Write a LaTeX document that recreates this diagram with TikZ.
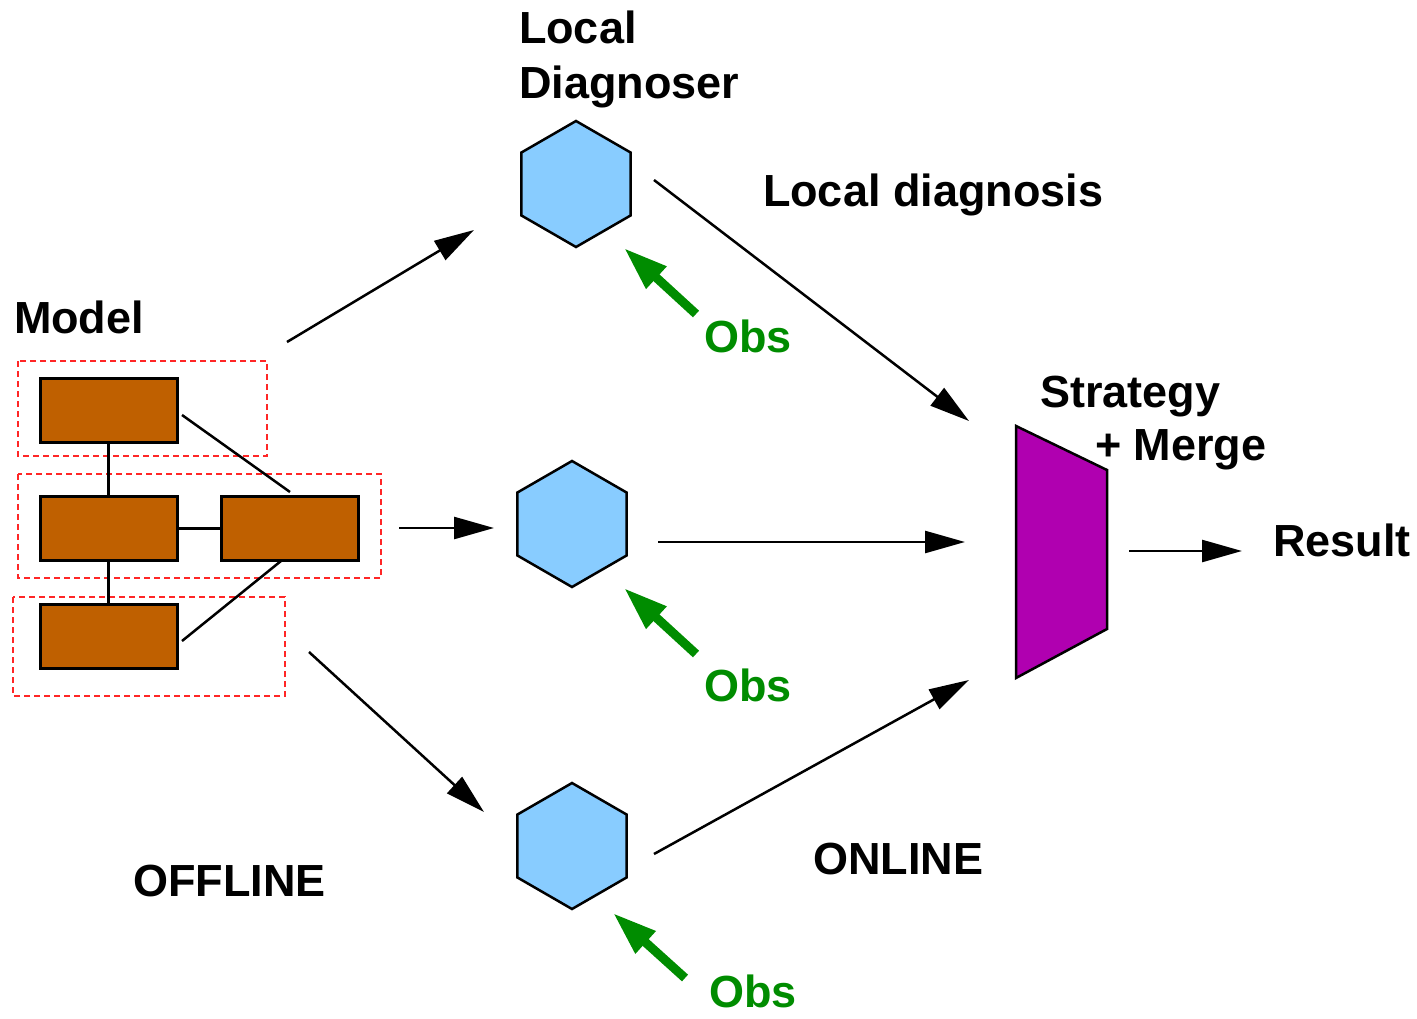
\documentclass[tikz,border=0pt]{standalone}
\usepackage{fontspec}
\setmainfont{Liberation Sans}
\usetikzlibrary{arrows.meta,shapes.geometric}
\definecolor{boxorange}{HTML}{BF6000}
\definecolor{hexblue}{HTML}{88CCFF}
\definecolor{mergepurple}{HTML}{B000B0}
\definecolor{obsgreen}{HTML}{008C00}
\tikzset{
  lbl/.style={font=\fontsize{45}{54}\selectfont\bfseries, anchor=base west, inner sep=0pt, outer sep=0pt},
  obslbl/.style={lbl, text=obsgreen},
  modbox/.style={draw=black, line width=3pt, fill=boxorange, rectangle,
    minimum width=137pt, minimum height=64pt, inner sep=0pt, outer sep=0pt},
  grp/.style={draw=red!85, line width=1.3pt, dash pattern=on 6pt off 4pt},
  link/.style={draw=black, line width=2.5pt},
  flow/.style={draw=black, line width=2.5pt, -{Triangle[length=40pt,width=22pt]}},
  obsarrow/.style={draw=obsgreen, line width=9pt, -{Triangle[length=44pt,width=28pt]}},
  diag/.style={draw=black, line width=2.5pt, fill=hexblue, regular polygon,
    regular polygon sides=6, shape border rotate=30, minimum size=126pt,
    inner sep=0pt, outer sep=0pt}
}
\begin{document}
\begin{tikzpicture}[x=1pt, y=-1pt]
\useasboundingbox (0,0) rectangle (1417,1019);

% ---- model: component boxes grouped in dashed frames ----
\draw[grp] (18,361) rectangle (267,456);
\draw[grp] (18,474) rectangle (381,578);
\draw[grp] (13,597) rectangle (285,696);

\node[modbox] (r1) at (108.5,410) {};
\node[modbox] (r2) at (108.5,528.5) {};
\node[modbox] (r3) at (290,528.5) {};
\node[modbox] (r4) at (108.5,636.5) {};

\coordinate (r1r3a) at (182,415);
\coordinate (r1r3b) at (290,492);
\coordinate (r3r4a) at (281,561);
\coordinate (r3r4b) at (182,641);

\draw[link] (r1.south) -- (r2.north);
\draw[link] (r2.south) -- (r4.north);
\draw[link] (r2.east) -- (r3.west);
\draw[link] (r1r3a) -- (r1r3b);
\draw[link] (r3r4a) -- (r3r4b);

\node[lbl] (model) at (14,334) {Model};
\node[lbl] (offline) at (133,896) {OFFLINE};

% ---- local diagnosers ----
\node[diag] (d1) at (576,184) {};
\node[diag] (d2) at (572,524) {};
\node[diag] (d3) at (572,846) {};

\node[lbl] (ld1) at (519,44) {Local};
\node[lbl] (ld2) at (519,99) {Diagnoser};

% distribution of the model to the diagnosers
\coordinate (m1) at (287,342);
\coordinate (m1t) at (474,230);
\coordinate (m2) at (399,528);
\coordinate (m2t) at (494,528);
\coordinate (m3) at (309,652);
\coordinate (m3t) at (484,812);
\draw[flow] (m1) -- (m1t);
\draw[flow] (m2) -- (m2t);
\draw[flow] (m3) -- (m3t);

% observations fed to each diagnoser
\coordinate (o1) at (696,314);
\coordinate (o1t) at (624,248);
\coordinate (o2) at (696,654);
\coordinate (o2t) at (624,588);
\coordinate (o3) at (685,978);
\coordinate (o3t) at (613,913);
\draw[obsarrow] (o1) -- (o1t);
\draw[obsarrow] (o2) -- (o2t);
\draw[obsarrow] (o3) -- (o3t);
\node[obslbl] (obs1) at (704,352) {Obs};
\node[obslbl] (obs2) at (704,701) {Obs};
\node[obslbl] (obs3) at (709,1007) {Obs};

% ---- strategy + merge ----
\coordinate (t1) at (1016,426);
\coordinate (t2) at (1107,470);
\coordinate (t3) at (1107,629);
\coordinate (t4) at (1016,678);
\draw[line width=2.5pt, fill=mergepurple] (t1) -- (t2) -- (t3) -- (t4) -- cycle;

\coordinate (h1) at (654,180);
\coordinate (h1t) at (969,421);
\coordinate (h2) at (658,542);
\coordinate (h2t) at (965,542);
\coordinate (h3) at (654,854);
\coordinate (h3t) at (969,680);
\draw[flow] (h1) -- (h1t);
\draw[flow] (h2) -- (h2t);
\draw[flow] (h3) -- (h3t);

\node[lbl] (locdiag) at (763,207) {Local diagnosis};
\node[lbl] (strat) at (1040,407) {Strategy};
\node[lbl] (merge) at (1095,460) {+ Merge};
\node[lbl] (online) at (813,874) {ONLINE};

\coordinate (res) at (1129,551);
\coordinate (rest) at (1242,551);
\draw[flow] (res) -- (rest);
\node[lbl] (result) at (1273,556) {Result};
\end{tikzpicture}
\end{document}
